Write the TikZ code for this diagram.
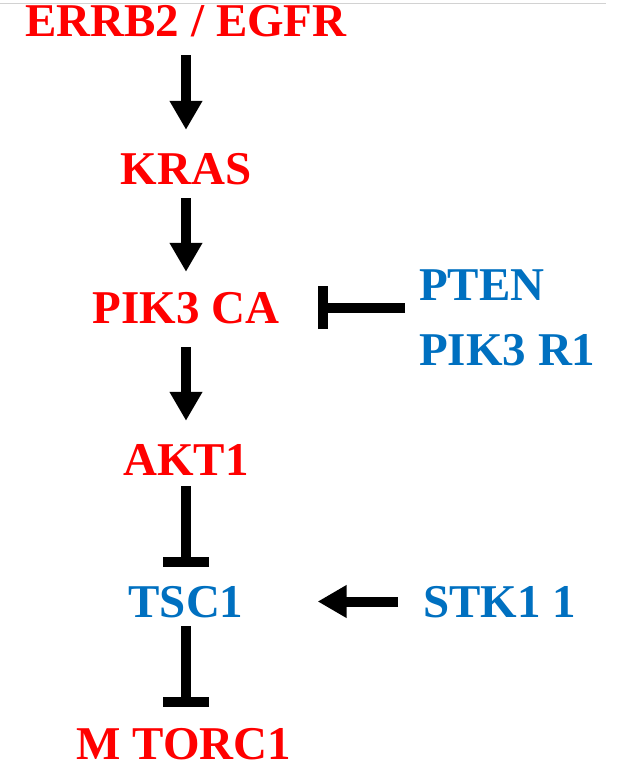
\documentclass[tikz,border=0pt]{standalone}
\usepackage{fontspec}
\setmainfont{Liberation Serif}
\usetikzlibrary{arrows.meta}
\definecolor{upred}{RGB}{255,0,0}
\definecolor{downblue}{RGB}{0,112,192}
\tikzset{
gene/.style={font=\bfseries\fontsize{47}{56}\selectfont, inner sep=0pt, text height=31pt, text depth=0pt, anchor=base},
act/.style={line width=10pt, -{Triangle[width=31pt, length=29pt]}},
inh/.style={line width=10pt, -{Bar[width=46pt]}},
inhside/.style={line width=10pt, -{Bar[width=43pt]}}
}
\begin{document}
\begin{tikzpicture}[x=1pt, y=-1pt]
\useasboundingbox (0, 0) rectangle (619, 778);
\draw [gray!35, line width=1.5pt] (0, 3.5) -- (606, 3.5);
% main column
\node [gene, text=upred] (errb) at (186, 37) {ERRB2 / EGFR};
\node [gene, text=upred] (kras) at (186, 185) {KRAS};
\node [gene, text=upred] (pik) at (186, 323) {PIK3 CA};
\node [gene, text=upred] (akt) at (186, 475) {AKT1};
\node [gene, text=downblue] (tsc) at (186, 617) {TSC1};
\node [gene, text=upred] (mtor) at (184, 759) {M TORC1};
% side regulators
\node [gene, text=downblue, anchor=base west] (pten) at (419, 300) {PTEN};
\node [gene, text=downblue, anchor=base west] (pikr) at (419, 365) {PIK3 R1};
\node [gene, text=downblue, anchor=base west] (stk) at (423, 617) {STK1 1};
\draw [act, shorten <=18pt, shorten >=24pt] (errb.south) -- (kras.north);
\draw [act, shorten <=13pt, shorten >=20pt] (kras.south) -- (pik.north);
\draw [act, shorten <=24pt, shorten >=23pt] (pik.south) -- (akt.north);
\draw [inh, shorten <=11pt, shorten >=19pt] (akt.south) -- (tsc.north);
\draw [inh, shorten <=9pt, shorten >=21pt] (tsc.south) -- (tsc.south |- mtor.north);
\draw [inhside, shorten <=14pt, shorten >=38pt] (pten.west |- pik.east) -- (pik.east);
\draw [act, shorten <=25pt, shorten >=74pt] (stk.west) -- (tsc.east);
\end{tikzpicture}
\end{document}
